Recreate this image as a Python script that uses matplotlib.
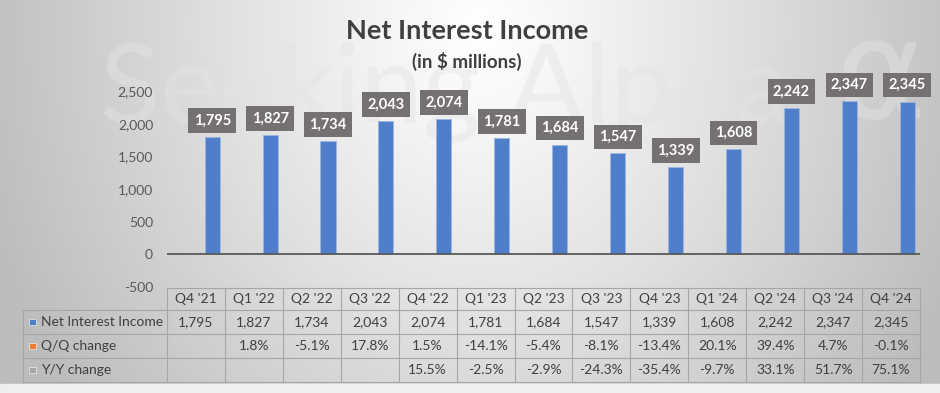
import matplotlib
matplotlib.use("Agg")
import matplotlib.pyplot as plt
import matplotlib.transforms as mtransforms
from matplotlib.lines import Line2D
from matplotlib.patches import Rectangle
import numpy as np

plt.rcParams['font.family'] = ['Lato', 'DejaVu Sans']

# ---------------- data ----------------
quarters = ["Q4 '21", "Q1 '22", "Q2 '22", "Q3 '22", "Q4 '22", "Q1 '23", "Q2 '23",
            "Q3 '23", "Q4 '23", "Q1 '24", "Q2 '24", "Q3 '24", "Q4 '24"]
nii = [1795, 1827, 1734, 2043, 2074, 1781, 1684, 1547, 1339, 1608, 2242, 2347, 2345]
qq_change = [None, 1.8, -5.1, 17.8, 1.5, -14.1, -5.4, -8.1, -13.4, 20.1, 39.4, 4.7, -0.1]
yy_change = [None, None, None, None, 15.5, -2.5, -2.9, -24.3, -35.4, -9.7, 33.1, 51.7, 75.1]
series_names = ["Net Interest Income", "Q/Q change", "Y/Y change"]
series_colors = ["#4f7ecb", "#ed7d31", "#a5a5a5"]
yticks = [-500, 0, 500, 1000, 1500, 2000, 2500]

W, H = 940, 393
fig = plt.figure(figsize=(W / 100, H / 100), dpi=100)

def fy(py):
    return 1 - py / H

def fx(px):
    return px / W

# ---------------- background gradient ----------------
bg = fig.add_axes([0, 0, 1, 1], zorder=-10)
yy_, xx_ = np.mgrid[0:H, 0:W]
dx = (xx_ - 480) / 480.0
dy = (yy_ - 30) / 560.0
r = np.sqrt(dx ** 2 + dy ** 2)
v = 1 - 0.24 * np.clip(r, 0, 1.2) ** 1.1
v = np.clip(v, 0.74, 1.0)
img = np.dstack([v, v, v])
bg.imshow(img, extent=[0, 1, 0, 1], aspect='auto', origin='upper', interpolation='bilinear')
bg.add_patch(Rectangle((0, 0), 1, fy(384), transform=bg.transAxes, color='#efefef', zorder=2))
bg.set_xlim(0, 1)
bg.set_ylim(0, 1)
bg.axis('off')

# watermark
fig.text(fx(100), fy(123), "Seeking Alpha", ha='left', va='baseline', fontsize=80,
         color='#e4e4e4', alpha=0.45, family='Lato', zorder=-5)
fig.text(fx(880), fy(118), "\u03b1", ha='center', va='baseline', fontsize=100,
         color='#e4e4e4', alpha=0.45, family='DejaVu Sans', zorder=-5)

# ---------------- main axes ----------------
x0, x1 = 167, 920
ytop, ybot = 91.5, 286.5
ax = fig.add_axes([fx(x0), fy(ybot), fx(x1 - x0), (ybot - ytop) / H])
ax.set_facecolor('none')
n = len(quarters)
x = np.arange(n)
ax.set_xlim(-0.5, n - 0.5)
ax.set_ylim(-500, 2500)
for s in ax.spines.values():
    s.set_visible(False)
ax.set_xticks([])
ax.set_yticks(yticks)
ax.set_yticklabels([f"{t:,}" for t in yticks], fontsize=10, color='#595959')
ax.tick_params(axis='y', length=0, pad=10)

off = 0.28
ax.bar(x + off, nii, width=0.26, color=series_colors[0], edgecolor='#9db5e0', linewidth=0.6, zorder=3)
ax.axhline(0, color='#595959', lw=1.3, zorder=4)

for xi, val in zip(x, nii):
    ax.annotate(f"{val:,}", xy=(xi + off, val), xytext=(0, 12), textcoords='offset points',
                ha='center', va='center', fontsize=10.5, fontweight='bold', color='white',
                bbox=dict(boxstyle='square,pad=0.36', fc='#767171', ec='none'), zorder=5,
                annotation_clip=False)

# title
fig.text(fx(467), fy(31), "Net Interest Income", ha='center', va='center', fontsize=19.5,
         fontweight='bold', color='#404040')
fig.text(fx(467), fy(61), "(in $ millions)", ha='center', va='center', fontsize=13.5,
         fontweight='bold', color='#404040')

# ---------------- data table ----------------
blend = mtransforms.blended_transform_factory(ax.transData, fig.transFigure)
row_edges = [287.7, 310, 334, 358, 382]
grid_c = '#a6a6a6'
left_px = 23
fig.canvas.draw()
def data_to_figx(xd):
    disp = ax.transData.transform((xd, 0))
    return fig.transFigure.inverted().transform(disp)[0]
xl = data_to_figx(-0.5)
xr = data_to_figx(n - 0.5)
for i, ry in enumerate(row_edges):
    xs = xl if i == 0 else fx(left_px)
    fig.add_artist(Line2D([xs, xr], [fy(ry), fy(ry)], color=grid_c, lw=0.8, transform=fig.transFigure))
for k in range(n + 1):
    xe = data_to_figx(k - 0.5)
    fig.add_artist(Line2D([xe, xe], [fy(row_edges[0]), fy(row_edges[-1])], color=grid_c, lw=0.8,
                          transform=fig.transFigure))
fig.add_artist(Line2D([fx(left_px), fx(left_px)], [fy(row_edges[1]), fy(row_edges[-1])], color=grid_c,
                      lw=0.8, transform=fig.transFigure))

tcol = '#404040'
tfs = 10
def row_c(i):
    return fy((row_edges[i] + row_edges[i + 1]) / 2)

for xi, q in zip(x, quarters):
    ax.text(xi, row_c(0), q, transform=blend, ha='center', va='center', fontsize=tfs, color=tcol)
rows = [
    [f"{v:,}" for v in nii],
    [("" if v is None else f"{v:.1f}%") for v in qq_change],
    [("" if v is None else f"{v:.1f}%") for v in yy_change],
]
for ri, rvals in enumerate(rows):
    yc = row_c(ri + 1)
    for xi, s in zip(x, rvals):
        if s:
            ax.text(xi, yc, s, transform=blend, ha='center', va='center', fontsize=tfs, color=tcol)
    sq = 6.5
    fig.add_artist(Rectangle((fx(29), yc - (sq / 2) / H), sq / W, sq / H, transform=fig.transFigure,
                             fc=series_colors[ri], ec='white', lw=0.4))
    fig.text(fx(41), yc, series_names[ri], ha='left', va='center', fontsize=tfs, color=tcol)

fig.savefig("out.png", dpi=100)
